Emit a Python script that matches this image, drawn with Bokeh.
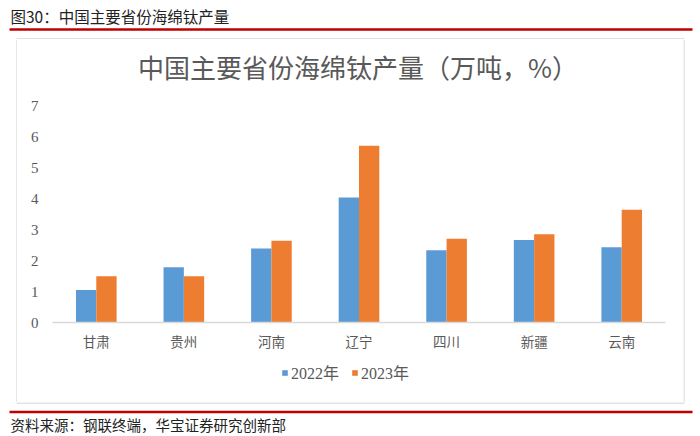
from bokeh.plotting import figure
from bokeh.layouts import column, row
from bokeh.models import (FactorRange, Range1d, ColumnDataSource, Legend, LegendItem,
                          FixedTicker)
from bokeh.core.properties import value
from bokeh.transform import dodge
from bokeh.embed import file_html
from bokeh.resources import INLINE

provinces = ["甘肃", "贵州", "河南", "辽宁", "四川", "新疆", "云南"]
y2022 = [1.05, 1.78, 2.39, 4.03, 2.33, 2.66, 2.43]
y2023 = [1.49, 1.49, 2.64, 5.70, 2.70, 2.85, 3.64]
series_names = ["2022年", "2023年"]
y_ticks = [0, 1, 2, 3, 4, 5, 6, 7]

header_text = "图30：中国主要省份海绵钛产量"
chart_title = "中国主要省份海绵钛产量（万吨，%）"
source_text = "资料来源：钢联终端，华宝证券研究创新部"

CJK = "'Noto Sans CJK SC'"
SERIF = "'Liberation Serif', 'Noto Sans CJK SC'"
BLUE = "#5B9BD5"
ORANGE = "#ED7D31"
GRAY = "#595959"
RED = "#C00000"
BOX = "#d9d9d9"


def deco_fig(w, h):
    f = figure(width=w, height=h, x_range=Range1d(0, w), y_range=Range1d(h, 0),
               output_backend="svg", toolbar_location=None, min_border=0,
               x_axis_type=None, y_axis_type=None)
    f.outline_line_color = None
    f.xgrid.grid_line_color = None
    f.ygrid.grid_line_color = None
    return f


# ---- header strip (0..39) ----
top = deco_fig(700, 39)
top.text(x=[10], y=[15], text=[header_text], text_font=value("Noto Sans CJK SC"),
         text_font_size="15.5px", text_color="#222222", text_baseline="middle", text_align="left")
top.quad(left=[9], right=[692], top=[27.8], bottom=[30.3], fill_color=RED, line_color=None)
top.multi_line(xs=[[16.5, 16.5, 683.5, 683.5]], ys=[[39, 38.5, 38.5, 39]],
               line_color=BOX, line_width=1.3)

# ---- side strips of the box (39..402) ----
left = deco_fig(17, 363)
left.segment(x0=[16.5], y0=[0], x1=[16.5], y1=[363], line_color=BOX, line_width=1.3)
right = deco_fig(17, 363)
right.segment(x0=[0.5], y0=[0], x1=[0.5], y1=[363], line_color=BOX, line_width=1.3)

# ---- chart title strip (39..95) ----
tfig = deco_fig(666, 56)
tfig.text(x=[332], y=[27], text=[chart_title], text_font=value("Noto Sans CJK SC"),
          text_font_size="26px", text_color=GRAY, text_baseline="middle", text_align="center")

# ---- main chart (95..360) ----
src = ColumnDataSource(dict(prov=provinces, a=y2022, b=y2023))

p = figure(width=666, height=265, x_range=FactorRange(*provinces, range_padding=0),
           y_range=Range1d(0, 7), output_backend="svg", toolbar_location=None,
           min_border_left=35, min_border_right=18, min_border_top=10, min_border_bottom=38)
p.outline_line_color = None
p.xgrid.grid_line_color = None
p.ygrid.grid_line_color = None

r1 = p.vbar(x=dodge("prov", -0.116, range=p.x_range), top="a", width=0.232, source=src,
            fill_color=BLUE, line_color=None)
r2 = p.vbar(x=dodge("prov", 0.116, range=p.x_range), top="b", width=0.232, source=src,
            fill_color=ORANGE, line_color=None)

p.xaxis.axis_line_color = BOX
p.xaxis.axis_line_width = 1.5
p.xaxis.major_tick_line_color = None
p.xaxis.major_tick_out = 0
p.xaxis.minor_tick_line_color = None
p.xaxis.major_label_standoff = 8
p.xaxis.major_label_text_font = CJK
p.xaxis.major_label_text_font_size = "13.5px"
p.xaxis.major_label_text_color = GRAY

p.yaxis.ticker = FixedTicker(ticks=y_ticks)
p.yaxis.axis_line_color = None
p.yaxis.major_tick_line_color = None
p.yaxis.major_tick_out = 0
p.yaxis.minor_tick_line_color = None
p.yaxis.major_label_standoff = 14
p.yaxis.major_label_text_font = SERIF
p.yaxis.major_label_text_font_size = "15px"
p.yaxis.major_label_text_color = GRAY

# ---- legend strip (360..402) ----
lfig = deco_fig(666, 42)
k1 = lfig.vbar(x=[-100], top=[-100], width=1, fill_color=BLUE, line_color=None)
k2 = lfig.vbar(x=[-100], top=[-100], width=1, fill_color=ORANGE, line_color=None)
legend = Legend(items=[LegendItem(label=series_names[0], renderers=[k1]),
                       LegendItem(label=series_names[1], renderers=[k2])],
                orientation="horizontal", location=(229, 18), padding=0, margin=0,
                spacing=12, label_standoff=3, glyph_width=7, glyph_height=7,
                label_height=14, label_text_font=SERIF, label_text_font_size="16px",
                label_text_color=GRAY, background_fill_alpha=0, border_line_color=None)
lfig.add_layout(legend, "center")

# ---- footer strip (402..436) ----
bot = deco_fig(700, 34)
bot.multi_line(xs=[[16.5, 16.5, 683.5, 683.5]], ys=[[0, 0.5, 0.5, 0]],
               line_color=BOX, line_width=1.3)
bot.quad(left=[9], right=[692], top=[8.3], bottom=[10.8], fill_color=RED, line_color=None)
bot.text(x=[10], y=[22], text=[source_text], text_font=value("Noto Sans CJK SC"),
         text_font_size="14.5px", text_color="#222222", text_baseline="middle", text_align="left")

layout = column(top, row(left, column(tfig, p, lfig), right), bot)

open("out.html", "w").write(file_html(layout, INLINE))
